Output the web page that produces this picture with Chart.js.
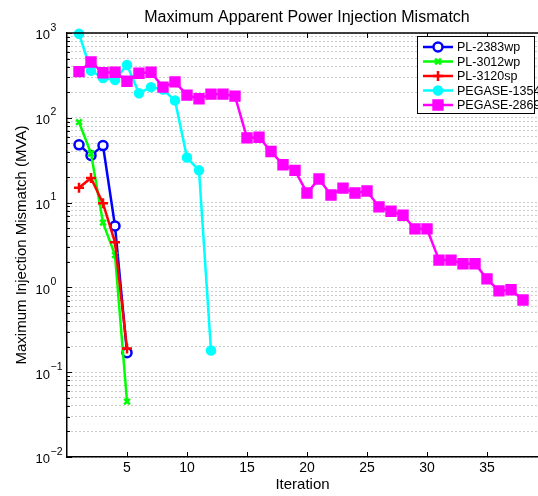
<!DOCTYPE html>
<html>
<head>
<meta charset="utf-8">
<script src="https://cdn.jsdelivr.net/npm/chart.js@4.4.1/dist/chart.umd.min.js"></script>
<style>
html,body{margin:0;padding:0;background:#fff;}
</style>
</head>
<body>
<canvas id="mismatch-chart" width="538" height="496"></canvas>
<script>
// iteration numbers (x)
const iterations = [1,2,3,4,5,6,7,8,9,10,11,12,13,14,15,16,17,18,19,20,21,22,23,24,25,26,27,28,29,30,31,32,33,34,35,36,37,38];

// max apparent power injection mismatch (MVA)
const pl2383wp   = [48, 36, 47, 5.3, 0.17];
const pl3012wp   = [89, 38, 5.8, 2.4, 0.045];
const pl3120sp   = [15, 19.5, 9.8, 3.4, 0.19];
const pegase1354 = [980, 360, 295, 280, 420, 195, 230, 215, 160, 34, 24, 0.18];
const pegase2869 = [350, 455, 340, 345, 270, 335, 345, 230, 265, 185, 168, 190, 190, 180,
                    58, 59, 40, 28, 24, 13, 19, 12.3, 14.8, 13, 13.7, 8.9, 7.9, 7.1, 4.9, 4.9,
                    2.1, 2.1, 1.9, 1.9, 1.26, 0.91, 0.94, 0.71];

const seriesNames = ['PL-2383wp', 'PL-3012wp', 'PL-3120sp', 'PEGASE-1354', 'PEGASE-2869'];
const chartTitle = 'Maximum Apparent Power Injection Mismatch';

// axis ticks
const xTicks = [5, 10, 15, 20, 25, 30, 35];
const xTickLabels = ['5', '10', '15', '20', '25', '30', '35'];
const yMajor = [0.01, 0.1, 1, 10, 100, 1000];
const yMajorExp = ['\u22122', '\u22121', '0', '1', '2', '3'];

let yGrid = [];
for (let e = -2; e < 3; e++) {
  for (let m = 1; m < 10; m++) yGrid.push(m * Math.pow(10, e));
}
yGrid.push(1000);

function pts(vals) {
  return vals.map((v, i) => ({x: iterations[i], y: v}));
}

const FONT = '"Liberation Sans", Arial, Helvetica, sans-serif';
Chart.defaults.font.family = FONT;
Chart.defaults.color = '#000';

function isMajor(v) {
  const l = Math.log10(v);
  return Math.abs(l - Math.round(l)) < 1e-6;
}

// title, tick labels, inward tick marks and top box line
const axisDecor = {
  id: 'axisDecor',
  afterDatasetsDraw(chart) {
    const ctx = chart.ctx, a = chart.chartArea;
    const xs = chart.scales.x, ys = chart.scales.y;
    ctx.save();
    ctx.strokeStyle = '#000';
    ctx.lineWidth = 1;
    ctx.beginPath();
    xTicks.forEach(t => {
      const px = Math.round(xs.getPixelForValue(t)) + 0.5;
      ctx.moveTo(px, a.bottom); ctx.lineTo(px, a.bottom - 5);
      ctx.moveTo(px, a.top); ctx.lineTo(px, a.top + 5);
    });
    yGrid.forEach(v => {
      const py = Math.round(ys.getPixelForValue(v)) + 0.5;
      const len = isMajor(v) ? 5 : 3;
      ctx.moveTo(a.left, py); ctx.lineTo(a.left + len, py);
    });
    ctx.stroke();
    ctx.lineWidth = 1.5;
    ctx.beginPath();
    ctx.moveTo(a.left, a.top); ctx.lineTo(a.right, a.top);
    ctx.stroke();

    ctx.fillStyle = '#000';
    // x tick labels
    ctx.font = '14px ' + FONT;
    ctx.textAlign = 'center';
    ctx.textBaseline = 'alphabetic';
    xTicks.forEach((t, i) => {
      ctx.fillText(xTickLabels[i], xs.getPixelForValue(t), a.bottom + 15);
    });

    // y tick labels as 10 with raised exponent
    yMajor.forEach((v, i) => {
      const py = ys.getPixelForValue(v);
      const bx = a.left - 17;
      ctx.font = '13px ' + FONT;
      ctx.textAlign = 'right';
      ctx.fillText('10', bx, py + 6.3);
      ctx.font = '10.5px ' + FONT;
      ctx.textAlign = 'left';
      ctx.fillText(yMajorExp[i], bx + 0.5, py - 2.5);
    });

    // title centred over the full 0..40 axis
    ctx.font = '16px ' + FONT;
    ctx.textAlign = 'center';
    ctx.fillText(chartTitle, xs.getPixelForValue(20), 22);
    ctx.restore();
  }
};

// legend box in the top-right corner of the axes
const legendBox = {
  id: 'legendBox',
  afterDraw(chart) {
    const ctx = chart.ctx, a = chart.chartArea;
    const w = 117, rowH = 14.5, h = 77;
    const x0 = a.right - w - 4, y0 = a.top + 3;
    ctx.save();
    ctx.fillStyle = '#fff';
    ctx.fillRect(x0, y0, w, h);
    ctx.strokeStyle = '#000';
    ctx.lineWidth = 1;
    ctx.strokeRect(x0 + 0.5, y0 + 0.5, w, h);
    ctx.font = '12.5px ' + FONT;
    ctx.textBaseline = 'middle';
    chart.data.datasets.forEach((ds, i) => {
      const cy = y0 + 11 + i * rowH;
      ctx.strokeStyle = ds.borderColor;
      ctx.lineWidth = ds.borderWidth;
      ctx.beginPath();
      ctx.moveTo(x0 + 6, cy); ctx.lineTo(x0 + 36, cy);
      ctx.stroke();
      ctx.fillStyle = ds.pointBackgroundColor;
      ctx.strokeStyle = ds.borderColor;
      ctx.lineWidth = ds.pointBorderWidth;
      Chart.helpers.drawPoint(ctx, {pointStyle: ds.pointStyle, radius: ds.pointRadius, rotation: 0, borderWidth: ds.pointBorderWidth}, x0 + 21, cy);
      ctx.fillStyle = '#000';
      ctx.fillText(ds.label, x0 + 40, cy + 1);
    });
    ctx.restore();
  }
};

const styles = [
  {color: '#0000ff', fill: '#ffffff', style: 'circle', r: 4.5, bw: 2.5},
  {color: '#00ff00', fill: '#00ff00', style: 'crossRot', r: 4, bw: 2.5},
  {color: '#ff0000', fill: '#ff0000', style: 'cross', r: 5, bw: 2.5},
  {color: '#00ffff', fill: '#00ffff', style: 'circle', r: 4.5, bw: 1.5},
  {color: '#ff00ff', fill: '#ff00ff', style: 'rect', r: 7, bw: 1.5}
];
const seriesValues = [pl2383wp, pl3012wp, pl3120sp, pegase1354, pegase2869];

const datasets = seriesValues.map((vals, i) => ({
  label: seriesNames[i],
  data: pts(vals),
  borderColor: styles[i].color,
  backgroundColor: styles[i].fill,
  borderWidth: 2.5,
  pointStyle: styles[i].style,
  pointRadius: styles[i].r,
  pointBorderWidth: styles[i].bw,
  pointBorderColor: styles[i].color,
  pointBackgroundColor: styles[i].fill,
  tension: 0,
  clip: false,
  order: 5 - i
}));

new Chart(document.getElementById('mismatch-chart'), {
  type: 'line',
  data: {datasets: datasets},
  options: {
    responsive: false,
    animation: false,
    layout: {autoPadding: false, padding: {top: 33, left: 0, right: 0, bottom: 0}},
    plugins: {
      legend: {display: false},
      tooltip: {enabled: false},
      title: {display: false}
    },
    scales: {
      x: {
        type: 'linear',
        min: 0,
        max: 39.25,
        afterBuildTicks: s => { s.ticks = xTicks.map(v => ({value: v})); },
        afterFit: s => { s.height = 39; },
        grid: {display: false, drawTicks: false},
        border: {display: true, color: '#000', width: 1.5},
        ticks: {display: false},
        title: {display: true, text: 'Iteration', font: {size: 15}, color: '#000', padding: {top: 0, bottom: 2}}
      },
      y: {
        type: 'logarithmic',
        min: 0.01,
        max: 1000,
        afterBuildTicks: s => { s.ticks = yGrid.map(v => ({value: v})); },
        afterFit: s => { s.width = 67; },
        grid: {color: 'rgba(0,0,0,0.4)', lineWidth: 1, drawTicks: false},
        border: {display: true, color: '#000', width: 1.5, dash: [1, 3]},
        ticks: {display: false, autoSkip: false},
        title: {display: true, text: 'Maximum Injection Mismatch (MVA)', font: {size: 15}, color: '#000', padding: {top: 13, bottom: 0}}
      }
    }
  },
  plugins: [axisDecor, legendBox]
});
</script>
</body>
</html>
